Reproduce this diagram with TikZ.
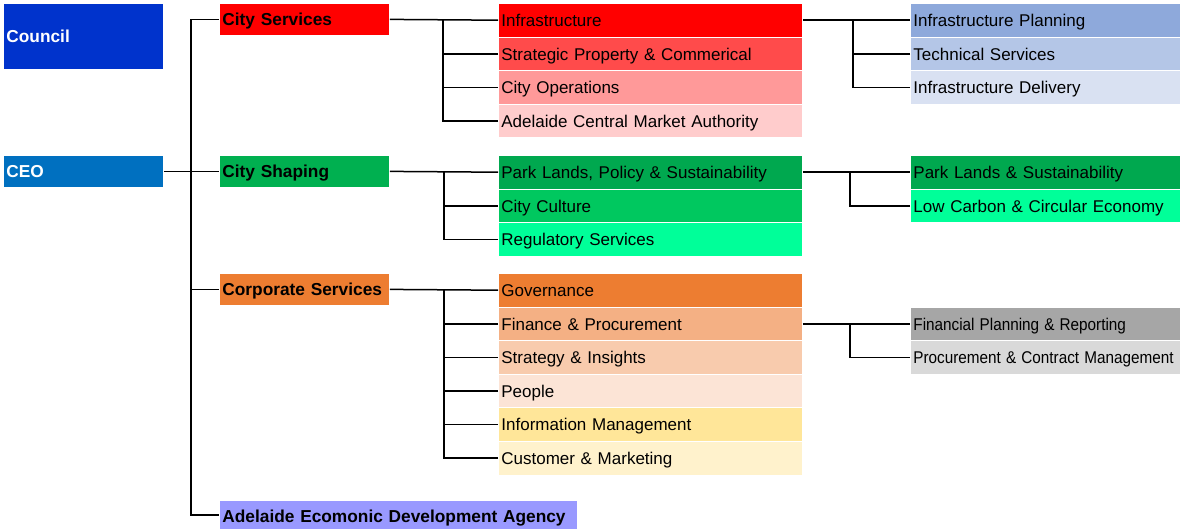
\documentclass[tikz,border=0pt]{standalone}
\usepackage{fontspec}
\setmainfont{Liberation Sans}
\usetikzlibrary{calc}
\definecolor{cCouncil}{HTML}{0033CC}
\definecolor{cCEO}{HTML}{0070C0}
\definecolor{cRedA}{HTML}{FF0000}
\definecolor{cRedB}{HTML}{FF4B4B}
\definecolor{cRedC}{HTML}{FF9999}
\definecolor{cRedD}{HTML}{FFCCCC}
\definecolor{cBlueA}{HTML}{8EA9DB}
\definecolor{cBlueB}{HTML}{B4C6E7}
\definecolor{cBlueC}{HTML}{D9E1F2}
\definecolor{cGrnL}{HTML}{00B050}
\definecolor{cGrnA}{HTML}{00A84F}
\definecolor{cGrnB}{HTML}{00C85F}
\definecolor{cGrnC}{HTML}{00FF99}
\definecolor{cOrA}{HTML}{ED7D31}
\definecolor{cOrB}{HTML}{F4B084}
\definecolor{cOrC}{HTML}{F8CBAD}
\definecolor{cOrD}{HTML}{FCE4D6}
\definecolor{cYlA}{HTML}{FFE699}
\definecolor{cYlB}{HTML}{FFF2CC}
\definecolor{cGrA}{HTML}{A6A6A6}
\definecolor{cGrB}{HTML}{D9D9D9}
\definecolor{cAEDA}{HTML}{9999FF}
\tikzset{
  box/.style={draw=white, line width=0.8pt, anchor=north west, inner xsep=3pt, inner ysep=0pt,
    align=left, text height=12.6pt, text depth=0pt, font=\fontsize{17}{20}\selectfont},
  topbox/.style={box, font=\fontsize{17.3}{20}\selectfont\bfseries, text=white, text width=154pt},
  lvlone/.style={box, font=\fontsize{17.3}{20}\selectfont\bfseries, text width=164pt, minimum height=32pt},
  lvltwo/.style={box, text width=298pt, minimum height=33.6pt},
  lvlthree/.style={box, text width=264pt, minimum height=33.6pt},
  conn/.style={draw=black, line width=1.5pt}
}
\newcommand{\narrowtxt}[1]{\scalebox{0.9}[1]{#1}}
\begin{document}
\begin{tikzpicture}[x=1pt,y=-1pt]
\useasboundingbox (0,0) rectangle (1180,529);
% top level
\node[topbox, fill=cCouncil, minimum height=66pt] (council) at (3,3) {Council};
\node[topbox, fill=cCEO, minimum height=32pt] (ceo) at (3,155) {CEO};
% level one
\node[lvlone, fill=cRedA] (cs) at (219,3) {City Services};
\node[lvlone, fill=cGrnL] (csh) at (219,155) {City Shaping};
\node[lvlone, fill=cOrA] (corp) at (219,273) {Corporate Services};
\node[lvlone, fill=cAEDA, text width=352pt, minimum height=29pt, text height=16pt] (aeda) at (219,500) {Adelaide Ecomonic Development Agency};
% level two: city services
\node[lvltwo, fill=cRedA] (infra) at (498,3) {Infrastructure};
\node[lvltwo, fill=cRedB] (spc) at (498,36.6) {Strategic Property \& Commerical};
\node[lvltwo, fill=cRedC] (cops) at (498,70.2) {City Operations};
\node[lvltwo, fill=cRedD] (cma) at (498,103.8) {Adelaide Central Market Authority};
% level two: city shaping
\node[lvltwo, fill=cGrnA] (plps) at (498,155) {Park Lands, Policy \& Sustainability};
\node[lvltwo, fill=cGrnB] (ccul) at (498,188.6) {City Culture};
\node[lvltwo, fill=cGrnC] (reg) at (498,222.2) {Regulatory Services};
% level two: corporate
\node[lvltwo, fill=cOrA] (gov) at (498,273) {Governance};
\node[lvltwo, fill=cOrB] (fin) at (498,306.6) {Finance \& Procurement};
\node[lvltwo, fill=cOrC] (strat) at (498,340.2) {Strategy \& Insights};
\node[lvltwo, fill=cOrD] (people) at (498,373.8) {People};
\node[lvltwo, fill=cYlA] (info) at (498,407.4) {Information Management};
\node[lvltwo, fill=cYlB] (cust) at (498,441) {Customer \& Marketing};
% level three
\node[lvlthree, fill=cBlueA] (iplan) at (910,3) {Infrastructure Planning};
\node[lvlthree, fill=cBlueB] (tech) at (910,36.6) {Technical Services};
\node[lvlthree, fill=cBlueC] (ideliv) at (910,70.2) {Infrastructure Delivery};
\node[lvlthree, fill=cGrnA] (pls) at (910,155) {Park Lands \& Sustainability};
\node[lvlthree, fill=cGrnC] (lowc) at (910,188.6) {Low Carbon \& Circular Economy};
\node[lvlthree, fill=cGrA] (fpr) at (910,306.6) {\narrowtxt{Financial Planning \& Reporting}};
\node[lvlthree, fill=cGrB] (pcm) at (910,340.2) {\narrowtxt{Procurement \& Contract Management}};
% connectors: CEO trunk
\draw[conn] (cs.west) -- ++(-28,0) |- (aeda.west);
\draw[conn] (ceo.east) -- (csh.west);
\draw[conn] (corp.west) -- ++(-28,0);
% city services
\draw[conn] (cs.east) -- (infra.west);
\draw[conn] (cma.west) -- ++(-55,0) coordinate (csb) -- (csb |- infra.west);
\draw[conn] (spc.west) -- ++(-55,0);
\draw[conn] (cops.west) -- ++(-55,0);
% infrastructure
\draw[conn] (infra.east) -- (iplan.west);
\draw[conn] (ideliv.west) -- ++(-57,0) coordinate (ib) -- (ib |- iplan.west);
\draw[conn] (tech.west) -- ++(-57,0);
% city shaping
\draw[conn] (csh.east) -- (plps.west);
\draw[conn] (reg.west) -- ++(-54,0) coordinate (shb) -- (shb |- plps.west);
\draw[conn] (ccul.west) -- ++(-54,0);
\draw[conn] (plps.east) -- (pls.west);
\draw[conn] (lowc.west) -- ++(-60,0) coordinate (plb) -- (plb |- pls.west);
% corporate
\draw[conn] (corp.east) -- (gov.west);
\draw[conn] (cust.west) -- ++(-54,0) coordinate (cpb) -- (cpb |- gov.west);
\draw[conn] (fin.west) -- ++(-54,0);
\draw[conn] (strat.west) -- ++(-54,0);
\draw[conn] (people.west) -- ++(-54,0);
\draw[conn] (info.west) -- ++(-54,0);
\draw[conn] (fin.east) -- (fpr.west);
\draw[conn] (pcm.west) -- ++(-60,0) coordinate (fb) -- (fb |- fpr.west);
\end{tikzpicture}
\end{document}
